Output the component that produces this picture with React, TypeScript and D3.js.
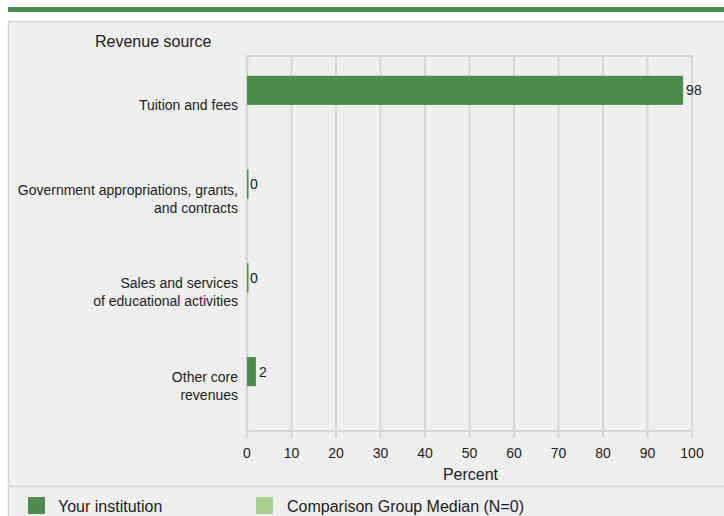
import React from "react";
import * as d3 from "d3";

const categories: string[][] = [
  ["Tuition and fees"],
  ["Government appropriations, grants,", "and contracts"],
  ["Sales and services", "of educational activities"],
  ["Other core", "revenues"],
];
const yourInstitution: number[] = [98, 0, 0, 2];
const comparisonMedian: (number | null)[] = [null, null, null, null];
const xTicks: number[] = [0, 10, 20, 30, 40, 50, 60, 70, 80, 90, 100];
const seriesNames: string[] = ["Your institution", "Comparison Group Median (N=0)"];

const DARK = "#4f8a4f";
const LIGHT = "#a9d08e";
const GRID = "#d6d6d6";
const BG = "#efefef";
const FONT = "'Liberation Sans', Arial, sans-serif";

export default function App() {
  const W = 724;
  const H = 516;
  const x = d3.scaleLinear().domain([0, 100]).range([247, 692]);
  const y = d3
    .scaleBand<number>()
    .domain(categories.map((_, i) => i))
    .range([58, 433])
    .paddingInner(0)
    .paddingOuter(0);
  const step = y.step();
  const barH = step * 0.31;
  const yTop = 56;
  const yAxis = 431;

  return (
    <svg
      width={W}
      height={H}
      style={{ position: "absolute", left: 0, top: 0, background: "#fff" }}
      fontFamily={FONT}
    >
      <rect x={8} y={7} width={W - 8} height={5} fill={DARK} />
      <rect x={8.5} y={21.5} width={W} height={465} fill={BG} stroke="#d3d3d3" strokeWidth={1.5} />
      <rect x={8.5} y={486.5} width={W} height={40} fill={BG} stroke="#d3d3d3" strokeWidth={1.5} />
      <text x={95} y={47} fontSize={16} fill="#222">
        Revenue source
      </text>

      {/* gridlines */}
      {xTicks.map((t) => (
        <line
          key={"g" + t}
          x1={x(t)}
          x2={x(t)}
          y1={yTop}
          y2={yAxis + 7}
          stroke={GRID}
          strokeWidth={t === 0 ? 2.5 : 2}
        />
      ))}
      <line x1={x(0) - 1} x2={x(100) + 1} y1={yTop} y2={yTop} stroke={GRID} strokeWidth={2} />
      <line x1={x(0) - 1} x2={x(100) + 1} y1={yAxis} y2={yAxis} stroke={GRID} strokeWidth={2} />

      {xTicks.map((t) => (
        <text key={"t" + t} x={x(t)} y={458} fontSize={14} textAnchor="middle" fill="#222">
          {t}
        </text>
      ))}
      <text x={x(50) + 1} y={480} fontSize={16} textAnchor="middle" fill="#222">
        Percent
      </text>

      {categories.map((lines, i) => {
        const c = (y(i) ?? 0) + step / 2;
        const v = yourInstitution[i];
        const cv = comparisonMedian[i];
        const lh = 18;
        const start = c - ((lines.length - 1) * lh) / 2;
        return (
          <g key={i}>
            <rect
              x={x(0)}
              y={c - barH}
              width={Math.max(x(v) - x(0), 1.5)}
              height={barH}
              fill={DARK}
            />
            {cv !== null && (
              <rect x={x(0)} y={c} width={x(cv) - x(0)} height={barH} fill={LIGHT} />
            )}
            <text x={x(v) + 3} y={c - barH / 2 + 5} fontSize={14} fill="#222">
              {v}
            </text>
            {lines.map((ln, j) => (
              <text
                key={j}
                x={238}
                y={start + j * lh + 5}
                fontSize={14}
                textAnchor="end"
                fill="#222"
              >
                {ln}
              </text>
            ))}
          </g>
        );
      })}

      {/* legend */}
      <rect x={28} y={497} width={17} height={17} fill={DARK} />
      <text x={58} y={512} fontSize={16} fill="#222">
        {seriesNames[0]}
      </text>
      <rect x={256} y={497} width={17} height={17} fill={LIGHT} />
      <text x={287} y={512} fontSize={16} fill="#222">
        {seriesNames[1]}
      </text>
    </svg>
  );
}
